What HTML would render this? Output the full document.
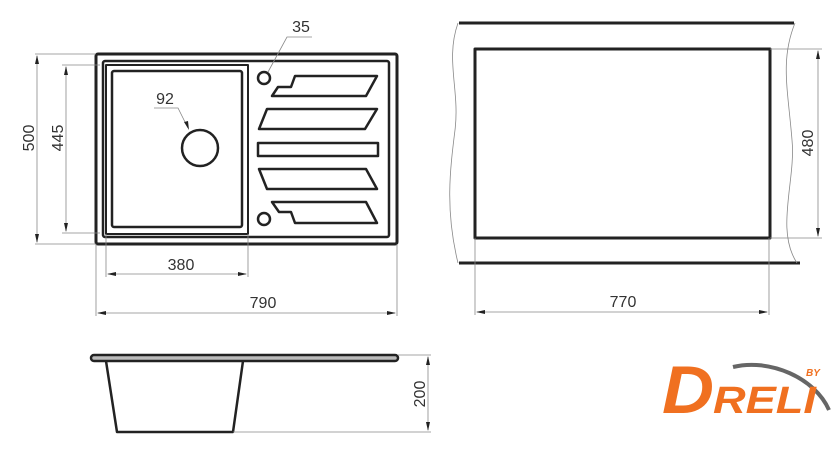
<!DOCTYPE html>
<html><head><meta charset="utf-8"><style>html,body{margin:0;padding:0;background:#fff}svg{display:block}</style></head><body>
<svg width="840" height="454" viewBox="0 0 840 454" xmlns="http://www.w3.org/2000/svg" font-family="Liberation Sans, sans-serif">
<g fill="none" stroke="#222" stroke-linejoin="round">
<rect x="96" y="54" width="301" height="190" rx="2" stroke-width="3"/>
<rect x="103" y="61" width="286" height="176" rx="2" stroke-width="2.5"/>
<rect x="106" y="65" width="142" height="169" stroke-width="2"/>
<rect x="112" y="71" width="130" height="156" rx="2" stroke-width="2.5"/>
<circle cx="200" cy="148" r="18" stroke-width="2.5"/>
<circle cx="264" cy="78" r="6" stroke-width="2.5"/>
<circle cx="264" cy="219" r="6" stroke-width="2.5"/>
<polygon points="272,96 278,87 291,87 295,76 377,76 366,96" stroke-width="2.5"/>
<polygon points="259,129 267,109 377,109 365,129" stroke-width="2.5"/>
<rect x="258" y="143" width="120" height="13" stroke-width="2.5"/>
<polygon points="259,169 267,189 377,189 366,169" stroke-width="2.5"/>
<polygon points="272,202 279,212 291,212 295,223 377,223 366,202" stroke-width="2.5"/>
<rect x="475" y="49" width="295" height="189" stroke-width="3"/>
<line x1="459" y1="23" x2="794" y2="23" stroke-width="3"/>
<line x1="459" y1="263" x2="800" y2="263" stroke-width="3"/>
<rect x="91" y="355" width="307" height="6" rx="3" stroke-width="2.5" fill="#bbb"/>
<polyline points="106,361 117,432 233,432 243,361" stroke-width="2.5"/>
</g>
<g fill="none" stroke="#888" stroke-width="0.8">
<path d="M458,23 C445,60 460,90 455,130 C450,170 445,210 458,263"/>
<path d="M795,23 C780,60 788,90 792,140 C796,180 775,230 797,263"/>
<line x1="35" y1="54" x2="96" y2="54"/><line x1="35" y1="244" x2="96" y2="244"/>
<line x1="37" y1="56" x2="37" y2="242"/>
<line x1="62" y1="65" x2="100" y2="65"/><line x1="62" y1="233" x2="100" y2="233"/>
<line x1="66" y1="67" x2="66" y2="231"/>
<line x1="106" y1="234" x2="106" y2="277"/><line x1="248" y1="234" x2="248" y2="277"/>
<line x1="108" y1="274" x2="246" y2="274"/>
<line x1="96" y1="244" x2="96" y2="316"/><line x1="397" y1="244" x2="397" y2="316"/>
<line x1="98" y1="313" x2="395" y2="313"/>
<line x1="770" y1="49" x2="822" y2="49"/><line x1="770" y1="238" x2="822" y2="238"/>
<line x1="818" y1="51" x2="818" y2="236"/>
<line x1="475" y1="238" x2="475" y2="315"/><line x1="769" y1="238" x2="769" y2="315"/>
<line x1="477" y1="312" x2="767" y2="312"/>
<line x1="398" y1="355" x2="431" y2="355"/><line x1="233" y1="432" x2="431" y2="432"/>
<line x1="428" y1="357" x2="428" y2="430"/>
<polyline points="154,108 178,108 188,128"/>
<polyline points="312,37 287,37 268,72"/>
</g>
<g fill="#222">
<polygon points="37,55 35,64 39,64"/><polygon points="37,243 35,234 39,234"/>
<polygon points="66,66 64,75 68,75"/><polygon points="66,232 64,223 68,223"/>
<polygon points="107,274 116,272 116,276"/><polygon points="247,274 238,272 238,276"/>
<polygon points="97,313 106,311 106,315"/><polygon points="396,313 387,311 387,315"/>
<polygon points="818,50 816,59 820,59"/><polygon points="818,237 816,228 820,228"/>
<polygon points="476,312 485,310 485,314"/><polygon points="768,312 759,310 759,314"/>
<polygon points="428,356 426,365 430,365"/><polygon points="428,431 426,422 430,422"/>
<polygon points="189,130 184,122 188,121"/>
</g>
<g fill="#333" font-size="16">
<text x="301" y="32" text-anchor="middle">35</text>
<text x="165" y="104" text-anchor="middle">92</text>
<text x="181" y="270" text-anchor="middle">380</text>
<text x="263" y="308" text-anchor="middle">790</text>
<text x="623" y="307" text-anchor="middle">770</text>
<text transform="translate(34,138) rotate(-90)" text-anchor="middle">500</text>
<text transform="translate(63,138) rotate(-90)" text-anchor="middle">445</text>
<text transform="translate(813,143) rotate(-90)" text-anchor="middle">480</text>
<text transform="translate(425,394) rotate(-90)" text-anchor="middle">200</text>
</g>
<path d="M733,367 C770,358 815,378 829,410" fill="none" stroke="#666" stroke-width="4"/>
<g fill="#f07020" font-weight="bold" font-style="italic">
<text x="662" y="413" font-size="68" textLength="52" lengthAdjust="spacingAndGlyphs">D</text>
<text x="713" y="413" font-size="38" textLength="103" lengthAdjust="spacingAndGlyphs">RELI</text>
<text x="806" y="376" font-size="10">BY</text>
</g>
</svg>
</body></html>
